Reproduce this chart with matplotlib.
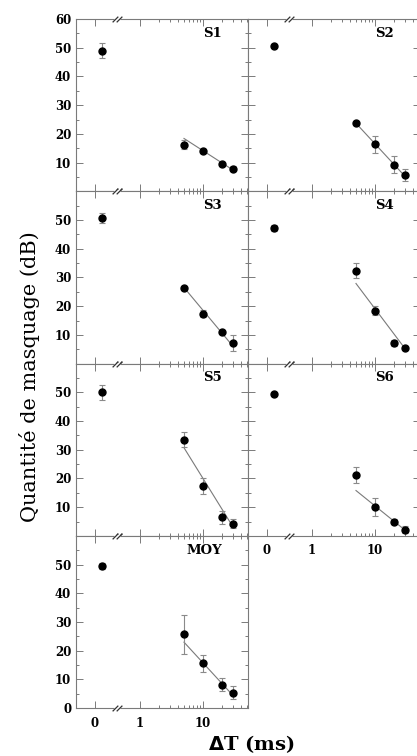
import numpy as np
import matplotlib
matplotlib.use('Agg')
import matplotlib.pyplot as plt
from matplotlib.path import Path
from matplotlib.ticker import FixedLocator, FixedFormatter
import matplotlib.transforms as mtransforms

# masking amount (dB) vs delta T (ms), one panel per subject + mean
names = ['S1', 'S2', 'S3', 'S4', 'S5', 'S6', 'MOY']
dt = [0.155, 5, 10, 20, 30]

s1 = [49.0, 16.2, 14.2, 9.5, 7.9]
s2 = [50.7, 23.7, 16.3, 9.3, 5.7]
s3 = [50.7, 26.3, 17.3, 11.1, 7.1]
s4 = [47.1, 32.3, 18.4, 7.3, 5.5]
s5 = [50.0, 33.5, 17.3, 6.5, 4.2]
s6 = [49.3, 21.3, 10.1, 5.0, 2.2]
moy = [49.5, 25.7, 15.6, 8.2, 5.4]

e1 = [2.5, 1.5, 0.7, 0.7, 1.0]
e2 = [0.5, 0.5, 3.0, 3.0, 2.2]
e3 = [1.7, 0.5, 1.2, 0.5, 2.8]
e4 = [1.0, 2.6, 1.5, 1.0, 0.5]
e5 = [2.6, 2.6, 2.8, 2.3, 1.6]
e6 = [0.5, 2.8, 3.0, 0.8, 1.2]
emoy = [1.2, 6.7, 3.0, 2.2, 2.2]

# regression lines, drawn from 5 to 30 ms
fit_x = [5, 30]
f1 = [18.4, 7.4]
f2 = [23.7, 5.2]
f3 = [26.5, 6.0]
f4 = [27.9, 5.2]
f5 = [30.7, 3.1]
f6 = [15.8, 2.0]
fmoy = [23.0, 4.4]

vals = [s1, s2, s3, s4, s5, s6, moy]
errs = [e1, e2, e3, e4, e5, e6, emoy]
fits = [f1, f2, f3, f4, f5, f6, fmoy]

# broken x axis: linear piece near 0, log from 1 on
k = 0.714
def fwd(x):
    x = np.asarray(x, dtype=float)
    return np.where(x < 1, -k * (1 - x), np.log10(np.clip(x, 1e-9, None)))

def inv(u):
    u = np.asarray(u, dtype=float)
    return np.where(u < 0, 1 + u / k, 10 ** np.clip(u, 0, None))

x_break = 0.49
xlim = (-0.42, 51.8)

gray = '#7a7a7a'
W, H = 417, 756
axw, axh = 172, 172.3
lefts = [76, 248]
top0 = 19

plt.rcParams['font.family'] = 'DejaVu Serif'
fig = plt.figure(figsize=(W / 100, H / 100), dpi=100)

brk = Path([(-1.2, -0.7), (0.2, 0.7), (-0.2, -0.7), (1.2, 0.7)],
           [Path.MOVETO, Path.LINETO, Path.MOVETO, Path.LINETO])

for i, name in enumerate(names):
    row, col = divmod(i, 2)
    b = 1 - (top0 + axh * (row + 1)) / H
    ax = fig.add_axes([lefts[col] / W, b, axw / W, axh / H])
    ax.set_xscale('function', functions=(fwd, inv))
    ax.set_xlim(*xlim)
    ax.set_ylim(0, 60)

    ax.errorbar(dt, vals[i], yerr=errs[i], fmt='none', ecolor='#8a8a8a',
                elinewidth=0.8, capsize=2, capthick=0.8, zorder=2)
    ax.plot(fit_x, fits[i], color=gray, lw=0.8, zorder=1)
    ax.plot(dt, vals[i], 'o', color='black', ms=5.0, zorder=3)

    ax.text(0.85, 0.918, name, transform=ax.transAxes, ha='right', va='center',
            fontsize=9.5, fontweight='bold')

    for s in ax.spines.values():
        s.set_color(gray)
        s.set_linewidth(0.8)

    ax.xaxis.set_major_locator(FixedLocator([0, 1, 10]))
    ax.xaxis.set_minor_locator(FixedLocator([2, 3, 4, 5, 6, 7, 8, 9, 20, 30, 40, 50]))
    ax.yaxis.set_major_locator(FixedLocator([0, 10, 20, 30, 40, 50, 60]))
    ax.yaxis.set_minor_locator(FixedLocator([5, 15, 25, 35, 45, 55]))
    ax.tick_params(which='both', direction='in', top=True, right=True,
                   color=gray, width=0.7, labelcolor='black')
    ax.tick_params(which='major', length=5)
    ax.tick_params(which='minor', length=2.5)
    ax.tick_params(axis='y', pad=3.5, labelsize=8.5)
    ax.tick_params(axis='x', pad=6, labelsize=8.5)

    if col == 0:
        if row == 0:
            ylab = ['', '10', '20', '30', '40', '50', '60']
        elif row == 3:
            ylab = ['0', '10', '20', '30', '40', '50', '']
        else:
            ylab = ['', '10', '20', '30', '40', '50', '']
        ax.yaxis.set_major_formatter(FixedFormatter(ylab))
    else:
        ax.set_yticklabels([])
    if name in ('S6', 'MOY'):
        ax.xaxis.set_major_formatter(FixedFormatter(['0', '1', '10']))
    else:
        ax.set_xticklabels([])
    ax.set_xticklabels([], minor=True)
    for lab in ax.get_xticklabels() + ax.get_yticklabels():
        lab.set_fontweight('bold')

    # break marks on top and bottom spines
    tr = mtransforms.blended_transform_factory(ax.transData, ax.transAxes)
    ax.plot([x_break, x_break], [0, 1], transform=tr, ls='none', marker='_',
            ms=5, mew=2.5, mec='white', clip_on=False, zorder=5)
    ax.plot([x_break, x_break], [0, 1], transform=tr, ls='none', marker=brk,
            ms=7, mew=0.9, mec='#333333', mfc='none', clip_on=False, zorder=6)

fig.text(30 / W, 1 - 377 / H, 'Quantité de masquage (dB)', rotation=90,
         ha='center', va='center', fontsize=15)
fig.text(251 / W, 1 - 744 / H, r'$\mathbf{\Delta}$T (ms)', ha='center', va='center',
         fontsize=14, fontweight='bold')

fig.savefig('out.png', dpi=100)
